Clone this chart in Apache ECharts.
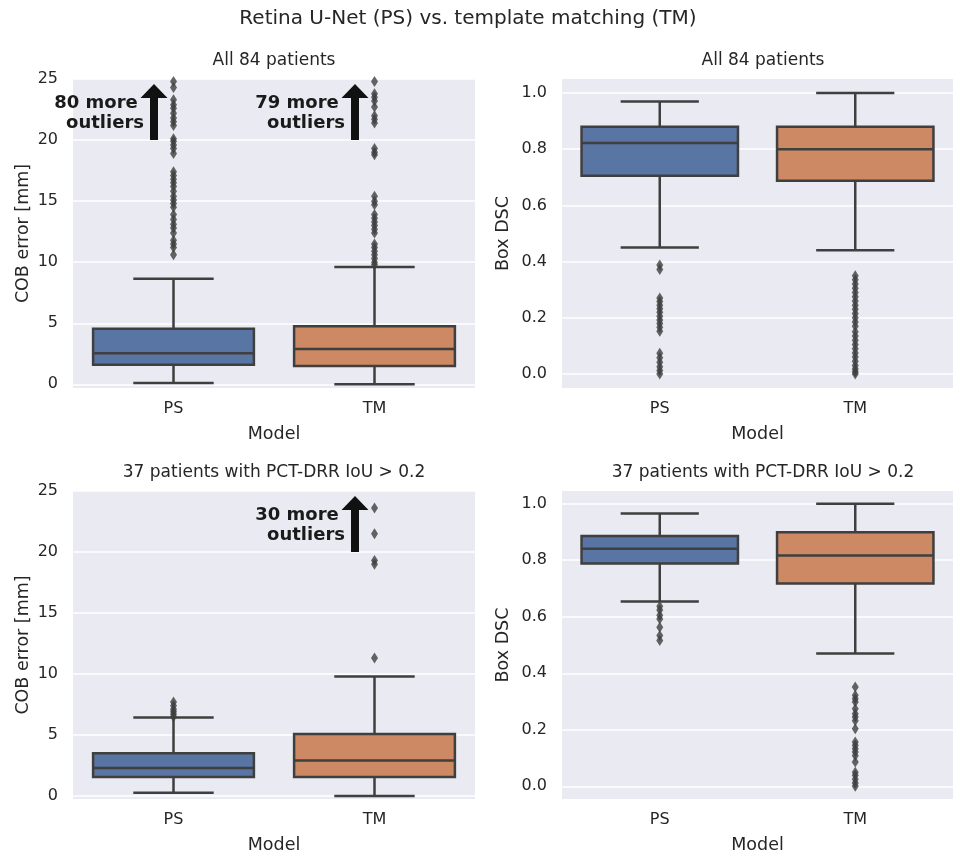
<!DOCTYPE html>
<html>
<head>
<meta charset="utf-8">
<script src="https://cdn.jsdelivr.net/npm/echarts@6/dist/echarts.min.js"></script>
<style>
  html, body { margin: 0; padding: 0; background: #fff; }
  #chart { width: 953px; height: 856px; }
</style>
</head>
<body>
<div id="chart"></div>
<script>
const categories = ["PS", "TM"];

// [lower whisker, Q1, median, Q3, upper whisker] for PS, TM
const cobAllStats = [[0.1, 1.6, 2.55, 4.55, 8.65], [0.0, 1.5, 2.9, 4.75, 9.6]];
const dscAllStats = [[0.45, 0.706, 0.822, 0.88, 0.97], [0.44, 0.688, 0.80, 0.88, 1.0]];
const cobSubStats = [[0.27, 1.55, 2.29, 3.51, 6.43], [0.0, 1.55, 2.91, 5.07, 9.8]];
const dscSubStats = [[0.654, 0.788, 0.841, 0.886, 0.965], [0.47, 0.718, 0.817, 0.899, 1.0]];

// outliers
const cobAllOutPS = [24.8, 24.3, 23.3, 22.9, 22.6, 22.2, 21.8, 21.5, 21.2, 20.1, 19.9, 19.6, 19.3, 18.9, 17.4, 17.1, 16.8, 16.5, 16.2, 15.8, 15.4, 15.1, 14.8, 14.5, 13.9, 13.5, 13.1, 12.8, 12.4, 11.8, 11.5, 11.2, 10.6];
const cobAllOutTM = [24.8, 23.8, 23.5, 23.2, 22.7, 22.0, 21.7, 21.4, 19.3, 19.0, 18.8, 15.4, 15.0, 14.7, 13.9, 13.6, 13.3, 13.0, 12.7, 12.4, 11.5, 11.2, 10.9, 10.6, 10.3, 10.0, 9.8];
const dscAllOutPS = [0.388, 0.372, 0.27, 0.258, 0.245, 0.232, 0.22, 0.205, 0.192, 0.18, 0.166, 0.152, 0.074, 0.058, 0.042, 0.026, 0.012, 0.0];
const dscAllOutTM = [0.35, 0.335, 0.32, 0.305, 0.29, 0.275, 0.26, 0.245, 0.23, 0.215, 0.20, 0.185, 0.17, 0.15, 0.135, 0.12, 0.105, 0.09, 0.075, 0.06, 0.045, 0.03, 0.018, 0.008, 0.0];
const cobSubOutPS = [7.7, 7.4, 7.1, 6.9, 6.7, 6.5];
const cobSubOutTM = [23.6, 21.5, 19.3, 19.0, 11.3];
const dscSubOutPS = [0.637, 0.624, 0.605, 0.592, 0.563, 0.534, 0.516];
const dscSubOutTM = [0.351, 0.322, 0.31, 0.298, 0.274, 0.257, 0.245, 0.232, 0.204, 0.157, 0.145, 0.133, 0.121, 0.108, 0.086, 0.05, 0.039, 0.025, 0.012, 0.0];

// "more outliers" arrows: [category index, label]
const arrowFrom = 20, arrowTo = 24.6;
const cobAllArrows = [[0, "80 more \noutliers"], [1, "79 more \noutliers"]];
const cobSubArrows = [[1, "30 more \noutliers"]];

const panelTitles = ["All 84 patients", "All 84 patients", "37 patients with PCT-DRR IoU > 0.2", "37 patients with PCT-DRR IoU > 0.2"];
const yNames = ["COB error [mm]", "Box DSC", "COB error [mm]", "Box DSC"];

const boxColors = ["#5975a4", "#cc8963"];
const lineColor = "#3f3f3f";
const font = "DejaVu Sans";
const textColor = "#262626";

const grids = [
  { left: 73, top: 79, width: 402, height: 309 },
  { left: 562, top: 79, width: 402, height: 309 },
  { left: 73, top: 491, width: 402, height: 308 },
  { left: 562, top: 491, width: 402, height: 308 },
];

function renderBox(params, api) {
  const cat = api.value(0);
  const lo = api.coord([cat, api.value(1)]);
  const q1 = api.coord([cat, api.value(2)]);
  const med = api.coord([cat, api.value(3)]);
  const q3 = api.coord([cat, api.value(4)]);
  const hi = api.coord([cat, api.value(5)]);
  const band = api.size([1, 0])[0];
  const bw = band * 0.8, cw = band * 0.4;
  const x = lo[0];
  const ls = { stroke: lineColor, lineWidth: 2.5 };
  return {
    type: "group",
    children: [
      { type: "line", shape: { x1: x, y1: q1[1], x2: x, y2: lo[1] }, style: ls },
      { type: "line", shape: { x1: x, y1: q3[1], x2: x, y2: hi[1] }, style: ls },
      { type: "line", shape: { x1: x - cw / 2, y1: lo[1], x2: x + cw / 2, y2: lo[1] }, style: ls },
      { type: "line", shape: { x1: x - cw / 2, y1: hi[1], x2: x + cw / 2, y2: hi[1] }, style: ls },
      { type: "rect", shape: { x: x - bw / 2, y: q3[1], width: bw, height: q1[1] - q3[1] },
        style: { fill: boxColors[cat], stroke: lineColor, lineWidth: 2.5 } },
      { type: "line", shape: { x1: x - bw / 2, y1: med[1], x2: x + bw / 2, y2: med[1] }, style: ls },
    ],
  };
}

function renderArrow(labels, params, api) {
  const cat = api.value(0);
  const p0 = api.coord([cat, api.value(1)]);
  const p1 = api.coord([cat, api.value(2)]);
  const band = api.size([1, 0])[0];
  const x = p0[0] - band * 0.097;
  const sw = 4, hw = 13.5, hl = 14;
  return {
    type: "group",
    children: [
      { type: "polygon", shape: { points: [
          [x - sw, p0[1]], [x - sw, p1[1] + hl], [x - hw, p1[1] + hl], [x, p1[1]],
          [x + hw, p1[1] + hl], [x + sw, p1[1] + hl], [x + sw, p0[1]] ] },
        style: { fill: "#111" } },
      { type: "text", x: x - 10, y: (p0[1] + p1[1]) / 2 + 1,
        style: { text: labels[params.dataIndex], align: "right", verticalAlign: "middle", fill: "#1a1a1a",
          font: "bold 18px '" + font + "'", lineHeight: 20 } },
    ],
  };
}

function boxSeries(idx, stats) {
  return {
    type: "custom", xAxisIndex: idx, yAxisIndex: idx, renderItem: renderBox, z: 3,
    data: stats.map((s, i) => [i].concat(s)),
  };
}

function outlierSeries(idx, ps, tm) {
  return {
    type: "scatter", xAxisIndex: idx, yAxisIndex: idx, symbol: "diamond", symbolSize: [7, 11],
    itemStyle: { color: lineColor }, z: 4, clip: true,
    data: ps.map(v => [0, v]).concat(tm.map(v => [1, v])),
  };
}

function arrowSeries(idx, arrows) {
  const labels = arrows.map(a => a[1]);
  return {
    type: "custom", xAxisIndex: idx, yAxisIndex: idx, z: 5,
    renderItem: (params, api) => renderArrow(labels, params, api),
    data: arrows.map(a => [a[0], arrowFrom, arrowTo]),
  };
}

const yRanges = [[-0.3, 25], [-0.05, 1.05], [-0.25, 25], [-0.045, 1.045]];

const option = {
  backgroundColor: "#fff",
  animation: false,
  title: [
    { text: "Retina U-Net (PS) vs. template matching (TM)", left: 468, top: 9, textAlign: "center", padding: 0,
      textStyle: { fontFamily: font, fontSize: 20, fontWeight: "normal", color: textColor } },
  ].concat(panelTitles.map((t, i) => ({
    text: t, left: grids[i].left + grids[i].width / 2, top: grids[i].top - 27, textAlign: "center", padding: 0,
    textStyle: { fontFamily: font, fontSize: 17, fontWeight: "normal", color: textColor },
  }))),
  grid: grids.map(g => Object.assign({ show: true, backgroundColor: "#eaeaf2", borderWidth: 0 }, g)),
  xAxis: grids.map((g, i) => ({
    type: "category", gridIndex: i, data: categories,
    name: "Model", nameLocation: "middle", nameGap: 37,
    nameTextStyle: { fontFamily: font, fontSize: 17.5, color: textColor },
    axisLine: { show: false }, axisTick: { show: false },
    axisLabel: { fontFamily: font, fontSize: 16, color: textColor, margin: 13 },
    splitLine: { show: false },
  })),
  yAxis: grids.map((g, i) => ({
    type: "value", gridIndex: i, min: yRanges[i][0], max: yRanges[i][1], splitNumber: 5,
    name: yNames[i], nameLocation: "middle", nameGap: i % 2 === 0 ? 41 : 50,
    nameTextStyle: { fontFamily: font, fontSize: 17.5, color: textColor },
    axisLine: { show: false }, axisTick: { show: false },
    axisLabel: {
      fontFamily: font, fontSize: 16, color: textColor, margin: 15,
      showMinLabel: false, showMaxLabel: i % 2 === 0,
      formatter: v => (i % 2 === 0 ? String(Math.round(v)) : v.toFixed(1)),
    },
    splitLine: { show: true, showMinLine: false, showMaxLine: i % 2 === 0, lineStyle: { color: "#fff", width: 1.6 } },
  })),
  series: [
    boxSeries(0, cobAllStats), outlierSeries(0, cobAllOutPS, cobAllOutTM), arrowSeries(0, cobAllArrows),
    boxSeries(1, dscAllStats), outlierSeries(1, dscAllOutPS, dscAllOutTM),
    boxSeries(2, cobSubStats), outlierSeries(2, cobSubOutPS, cobSubOutTM), arrowSeries(2, cobSubArrows),
    boxSeries(3, dscSubStats), outlierSeries(3, dscSubOutPS, dscSubOutTM),
  ],
};

const chart = echarts.init(document.getElementById("chart"), null, { renderer: "canvas" });
chart.setOption(option);
</script>
</body>
</html>
